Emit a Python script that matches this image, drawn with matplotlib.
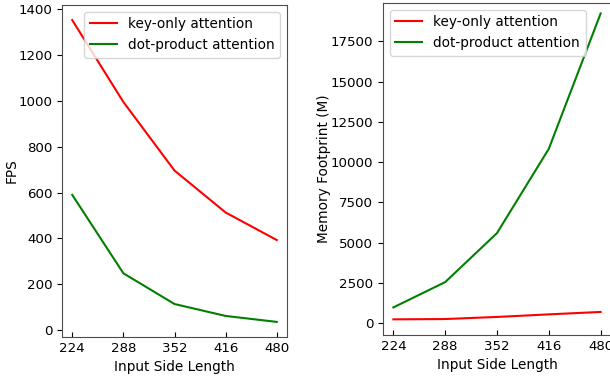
import matplotlib
matplotlib.use("Agg")
import matplotlib.pyplot as plt

# input side lengths
sizes = [224, 288, 352, 416, 480]

# FPS
fps_key_only = [1352, 995, 696, 513, 393]
fps_dot_product = [590, 248, 114, 62, 36]

# memory footprint (M)
mem_key_only = [250, 270, 400, 560, 710]
mem_dot_product = [990, 2560, 5600, 10830, 19220]

fs = 9.6
plt.rcParams['font.size'] = fs

fig = plt.figure(figsize=(6.10, 3.76), dpi=100)
ax1 = fig.add_axes([62 / 610, 39 / 376, 225 / 610, 332 / 376])
ax2 = fig.add_axes([383 / 610, 41 / 376, 228 / 610, 332 / 376])

ax1.plot(sizes, fps_key_only, color='red', label='key-only attention')
ax1.plot(sizes, fps_dot_product, color='green', label='dot-product attention')
ax1.set_xlabel('Input Side Length', fontsize=9.8)
ax1.set_ylabel('FPS', fontsize=9.8, labelpad=0)

ax2.plot(sizes, mem_key_only, color='red', label='key-only attention')
ax2.plot(sizes, mem_dot_product, color='green', label='dot-product attention')
ax2.set_xlabel('Input Side Length', fontsize=9.8)
ax2.set_ylabel('Memory Footprint (M)', fontsize=9.8, labelpad=0)
ax2.set_ylim(-720, 19870)

ax1.legend(loc='upper right', fontsize=9.8)
ax2.legend(loc='upper left', fontsize=9.8)

for ax in (ax1, ax2):
    ax.set_xticks(sizes)
    ax.tick_params(axis='x', direction='in', labelsize=fs)
    ax.tick_params(axis='y', direction='out', labelsize=fs)
    for sp in ax.spines.values():
        sp.set_color('0.3')

fig.savefig('out.png', dpi=100)
